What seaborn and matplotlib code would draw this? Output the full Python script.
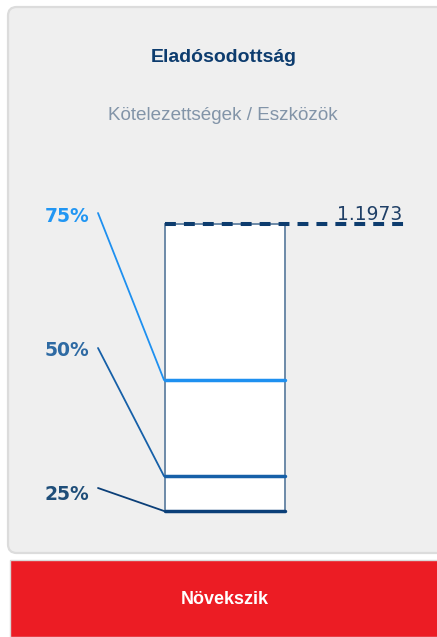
"""Debt ratio card: company value against industry quartiles."""
import numpy as np
import pandas as pd
import seaborn as sns
import matplotlib.pyplot as plt
from matplotlib.patches import FancyBboxPatch, Rectangle

# data
title = "Eladósodottság"
subtitle = "Kötelezettségek / Eszközök"
trend_label = "Növekszik"
metric_value = 1.1973
quantile_labels = ["25%", "50%", "75%"]
quantile_values = [0.40, 0.497, 0.764]

# style
label_colors = ["#1f4e79", "#2e6aa3", "#2196f3"]
line_colors = ["#0b3f78", "#1660a8", "#1e90f0"]
navy = "#0d3c6e"
W, H = 437, 637

sns.set_theme(style="white")
plt.rcParams["font.family"] = ["Liberation Sans", "DejaVu Sans"]

fig = plt.figure(figsize=(W / 100, H / 100), dpi=100)
fig.patch.set_facecolor("white")

# card background and red footer (figure fractions), kept behind the axes
card = FancyBboxPatch((8 / W, 1 - 553 / H), 440 / W, 546 / H,
                      boxstyle="round,pad=0,rounding_size=0.02",
                      mutation_aspect=W / H,
                      transform=fig.transFigure, facecolor="#efefef",
                      edgecolor="#dcdcdc", linewidth=1.6, zorder=-2)
fig.patches.append(card)
footer = Rectangle((10 / W, 0), 1, 77 / H, transform=fig.transFigure,
                   facecolor="#ec1c24", edgecolor="#d8d8d8", linewidth=1.0,
                   zorder=-2)
fig.patches.append(footer)

fig.text(224 / W, 1 - 57 / H, title, ha="center", va="center",
         fontsize=14, fontweight="bold", color=navy)
fig.text(223 / W, 1 - 116 / H, subtitle, ha="center", va="center",
         fontsize=13.6, color="#8294a8")
fig.text(225 / W, 1 - 600 / H, trend_label, ha="center", va="center",
         fontsize=13, fontweight="bold", color="white")

# chart area: x in pixel-like units, y in data units
ax_top, ax_bot = 200, 520
ax = fig.add_axes([0, 1 - ax_bot / H, 1, (ax_bot - ax_top) / H])
ax.set_xlim(0, W)
q_low = quantile_values[0]
scale = (511 - 224) / (metric_value - q_low)
ax.set_ylim(q_low - (ax_bot - 511) / scale, metric_value + (224 - ax_top) / scale)
ax.axis("off")
ax.patch.set_alpha(0)

box_l, box_r = 165, 285
ax.bar((box_l + box_r) / 2, metric_value - q_low, bottom=q_low,
       width=box_r - box_l, color="white", edgecolor="#6d8aa8",
       linewidth=1.4, zorder=1)

lines = pd.DataFrame({
    "x": [box_l, box_r] * len(quantile_values),
    "value": np.repeat(quantile_values, 2),
    "quantile": np.repeat(quantile_labels, 2),
})
sns.lineplot(data=lines, x="x", y="value", hue="quantile",
             palette=dict(zip(quantile_labels, line_colors)),
             linewidth=2.5, legend=False, ax=ax, zorder=3)

# dashed company value line
ax.plot([box_l, 405], [metric_value, metric_value], color=navy,
        linewidth=2.9, linestyle=(0, (2.7, 2.0)), zorder=4,
        solid_capstyle="butt")
ax.text(370, metric_value + 10 / scale, f"{metric_value:.4f}",
        ha="center", va="center", fontsize=13.5, color="#1f3f66",
        fontweight="medium", family=["DejaVu Sans"], zorder=5)

# quartile labels with connectors
label_y_px = [495, 351, 216]
start_y_px = [488, 348, 213]
for lab, val, ly, sy, lc, cc in zip(quantile_labels, quantile_values,
                                    label_y_px, start_y_px,
                                    label_colors, line_colors):
    ax.annotate(lab, xy=(89, H - ly), xycoords="figure pixels",
                ha="right", va="center", fontsize=13.5, fontweight="bold",
                color=lc, family=["DejaVu Sans"], annotation_clip=False)
    ax.annotate("", xy=(box_l - 1, val), xycoords="data",
                xytext=(98, H - sy), textcoords="figure pixels",
                arrowprops=dict(arrowstyle="-", color=cc, lw=1.3,
                                shrinkA=0, shrinkB=0),
                annotation_clip=False)

fig.savefig("out.png", dpi=100)
